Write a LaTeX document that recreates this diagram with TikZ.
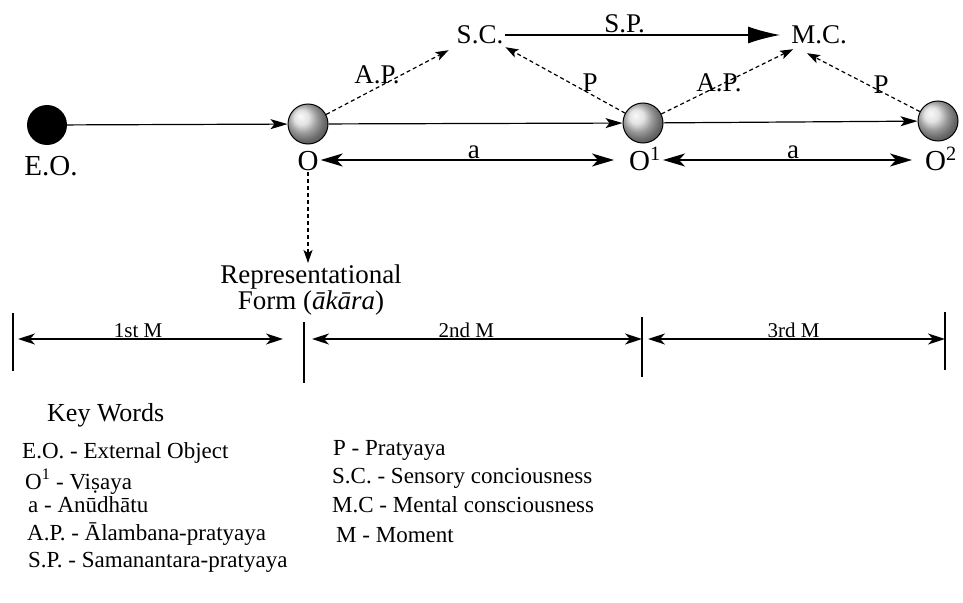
\documentclass[tikz,border=0pt]{standalone}
\usepackage{fontspec}
\setmainfont{Liberation Serif}
\usetikzlibrary{arrows.meta}
\begin{document}
\begin{tikzpicture}[x=1pt,y=-1pt,
  ballnode/.style={circle, minimum size=40pt, inner sep=0pt, shading=ball, ball color=gray!30, draw=black, line width=1pt},
  blacknode/.style={circle, minimum size=40pt, inner sep=0pt, fill=black},
  lab/.style={font=\fontsize{29}{30}\selectfont, inner sep=2pt, text height=20pt, text depth=0pt},
  toplab/.style={font=\fontsize{27}{28}\selectfont, inner sep=2pt, text height=18pt, text depth=0pt},
  alab/.style={font=\fontsize{27}{28}\selectfont, inner sep=1pt, text depth=0pt},
  mlab/.style={font=\fontsize{21}{22}\selectfont, inner sep=1pt, text depth=0pt},
  legend/.style={font=\fontsize{23}{24}\selectfont, inner sep=0pt, anchor=base west},
  solidarr/.style={line width=1.2pt, -{Stealth[length=17pt,width=10pt,inset=4pt]}},
  bigarr/.style={line width=1.2pt, -{Latex[length=32pt,width=17pt]}},
  dblarr/.style={line width=1.6pt, {Stealth[length=22pt,width=13pt,inset=6pt]}-{Stealth[length=22pt,width=13pt,inset=6pt]}},
  tlarr/.style={line width=1.6pt, {Stealth[length=17pt,width=11pt,inset=5pt]}-{Stealth[length=17pt,width=11pt,inset=5pt]}},
  dasharr/.style={line width=1.2pt, dash pattern=on 4pt off 3pt, -{Stealth[length=13pt,width=9pt,inset=3pt]}},
  tick/.style={line width=1.2pt}
]
\useasboundingbox (0,0) rectangle (963,602);

% balls
\node[blacknode] (EO) at (47,125) {};
\node[ballnode] (O) at (308,124) {};
\node[ballnode] (O1) at (643,123) {};
\node[ballnode] (O2) at (938,121) {};

% ball labels
\node[lab, anchor=base] (EOlab) at (51,175) {E.O.};
\node[lab, anchor=base] (Olab) at (308,170) {O};
\node[lab, anchor=base] (O1lab) at (645,170) {O\textsuperscript{1}};
\node[lab, anchor=base] (O2lab) at (941,170) {O\textsuperscript{2}};

% consciousness nodes
\node[toplab, anchor=base] (SC) at (480,44) {S.C.};
\node[toplab, anchor=base] (MC) at (819,44) {M.C.};

% horizontal arrows
\draw[solidarr] (EO) -- (O);
\draw[solidarr] (O) -- (O1);
\draw[solidarr] (O1) -- (O2);

% S.P.
\draw[bigarr, shorten >=9pt] (SC) -- (MC) node[alab, pos=0.42, above=1pt] (SPlab) {S.P.};

% a arrows
\draw[dblarr, shorten >=13pt] (Olab) -- (O1lab) node[alab, midway, above] (a1) {a};
\draw[dblarr, shorten >=11pt] (O1lab) -- (O2lab) node[alab, midway, above] (a2) {a};

% dashed arrows
\draw[dasharr] (O) -- ([xshift=-6pt,yshift=-4pt]SC.south west);
\draw[dasharr] (O1) -- ([yshift=-1pt]SC.south east);
\draw[dasharr] (O1) -- ([xshift=4pt,yshift=-3pt]MC.south west);
\draw[dasharr] (O2) -- ([xshift=-12pt,yshift=-7pt]MC.south);

\node[toplab, anchor=base] (AP1) at (377,83) {A.P.};
\node[toplab, anchor=base] (P1) at (590,92) {P};
\node[toplab, anchor=base] (AP2) at (719,92) {A.P.};
\node[toplab, anchor=base] (P2) at (881,93) {P};

% representational form
\node[font=\fontsize{27}{26}\selectfont, align=center, anchor=north, inner sep=2pt] (rep) at (311,263)
  {Representational\\Form (\textit{ākāra})};
\draw[dasharr] (Olab) -- (Olab |- rep.north);

% timeline
\coordinate (c1) at (13,339);
\coordinate (c2) at (304,339);
\coordinate (c3) at (642,339);
\coordinate (c4) at (945,339);
\draw[tick] (13,313) -- (13,371);
\draw[tick] (304,322) -- (304,383);
\draw[tick] (642,317) -- (642,377);
\draw[tick] (945,312) -- (945,370);
\draw[tlarr, shorten <=5pt, shorten >=21pt] (c1) -- (c2) node[mlab, pos=0.43, above] (m1) {1st M};
\draw[tlarr, shorten <=8pt] (c2) -- (c3) node[mlab, pos=0.48, above] (m2) {2nd M};
\draw[tlarr, shorten <=6pt] (c3) -- (c4) node[mlab, midway, above] (m3) {3rd M};

% legend
\node[font=\fontsize{26}{27}\selectfont, inner sep=0pt, anchor=base west] (kw) at (47,421) {Key Words};
\node[legend] (l1) at (22,458) {E.O. - External Object};
\node[legend] (l2) at (25,489) {O\textsuperscript{1} - Viṣaya};
\node[legend] (l3) at (28,512) {a - Anūdhātu};
\node[legend] (l4) at (27,540) {A.P. - Ālambana-pratyaya};
\node[legend] (l5) at (28,567) {S.P. - Samanantara-pratyaya};

\node[legend] (r1) at (333,455) {P - Pratyaya};
\node[legend] (r2) at (332,483) {S.C. - Sensory conciousness};
\node[legend] (r3) at (332,512) {M.C - Mental consciousness};
\node[legend] (r4) at (336,542) {M - Moment};
\end{tikzpicture}
\end{document}
